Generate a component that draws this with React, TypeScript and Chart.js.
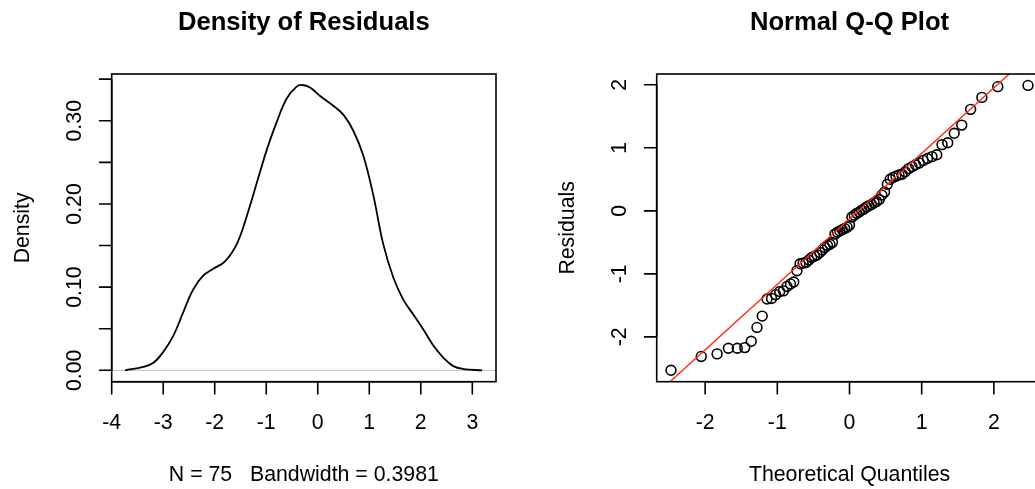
import React, { useEffect, useRef } from "react";
import { Chart, registerables } from "chart.js";

Chart.register(...registerables);

const FONT = '"Liberation Sans", Arial, Helvetica, sans-serif';

// ---------- Density of Residuals ----------
const densityTitle = "Density of Residuals";
const densityXLabel = "N = 75   Bandwidth = 0.3981";
const densityYLabel = "Density";
const densityX = [
  -3.74, -3.39, -3.19, -3.0, -2.8, -2.61, -2.42, -2.22, -2.03, -1.8, -1.57, -1.38,
  -1.18, -0.99, -0.8, -0.6, -0.41, -0.3, -0.15, 0.04, 0.3, 0.5, 0.69, 0.885, 1.08,
  1.27, 1.47, 1.66, 1.855, 2.05, 2.24, 2.44, 2.63, 2.83, 3.19,
];
const densityY = [
  0, 0.004, 0.009, 0.022, 0.042, 0.07, 0.097, 0.114, 0.122, 0.131, 0.152, 0.185,
  0.226, 0.265, 0.298, 0.327, 0.341, 0.343, 0.34, 0.33, 0.318, 0.307, 0.288, 0.258,
  0.21, 0.152, 0.111, 0.085, 0.067, 0.049, 0.03, 0.015, 0.005, 0.0015, 0,
];
const densityXTicks = [-4, -3, -2, -1, 0, 1, 2, 3];
const densityXTickLabels = ["-4", "-3", "-2", "-1", "0", "1", "2", "3"];
const densityYTicks = [0, 0.05, 0.1, 0.15, 0.2, 0.25, 0.3, 0.35];
const densityYTickLabels = ["0.00", "", "0.10", "", "0.20", "", "0.30", ""];
const densityXRange = [-4.0, 3.46];
const densityYRange = [-0.0137, 0.3562];

// ---------- Normal Q-Q Plot ----------
const qqTitle = "Normal Q-Q Plot";
const qqXLabel = "Theoretical Quantiles";
const qqYLabel = "Residuals";
const theoreticalQuantiles = [
  -2.473, -2.054, -1.834, -1.678, -1.555, -1.451, -1.361, -1.282, -1.209, -1.142,
  -1.08, -1.022, -0.967, -0.915, -0.866, -0.818, -0.772, -0.728, -0.685, -0.643,
  -0.603, -0.563, -0.524, -0.486, -0.449, -0.412, -0.376, -0.341, -0.305, -0.271,
  -0.236, -0.202, -0.168, -0.134, -0.1, -0.067, -0.033, 0, 0.033, 0.067,
  0.1, 0.134, 0.168, 0.202, 0.236, 0.271, 0.305, 0.341, 0.376, 0.412,
  0.449, 0.486, 0.524, 0.563, 0.603, 0.643, 0.685, 0.728, 0.772, 0.818,
  0.866, 0.915, 0.967, 1.022, 1.08, 1.142, 1.209, 1.282, 1.361, 1.451,
  1.555, 1.678, 1.834, 2.054, 2.473,
];
const residuals = [
  -2.53, -2.31, -2.27, -2.18, -2.18, -2.17, -2.07, -1.85, -1.67, -1.4,
  -1.39, -1.33, -1.28, -1.27, -1.2, -1.16, -1.13, -0.95, -0.84, -0.83,
  -0.82, -0.78, -0.74, -0.72, -0.7, -0.66, -0.62, -0.58, -0.55, -0.53,
  -0.5, -0.37, -0.34, -0.32, -0.3, -0.28, -0.26, -0.23, -0.1, -0.07,
  -0.04, -0.02, 0.01, 0.03, 0.06, 0.08, 0.1, 0.13, 0.15, 0.18,
  0.25, 0.3, 0.42, 0.5, 0.53, 0.55, 0.57, 0.58, 0.62, 0.67,
  0.7, 0.73, 0.76, 0.8, 0.83, 0.86, 0.89, 1.05, 1.08, 1.23,
  1.36, 1.61, 1.8, 1.97, 1.99,
];
const qqLineIntercept = -0.127;
const qqLineSlope = 1.039;
const qqXTicks = [-2, -1, 0, 1, 2];
const qqXTickLabels = ["-2", "-1", "0", "1", "2"];
const qqYTicks = [-2, -1, 0, 1, 2];
const qqYTickLabels = ["-2", "-1", "0", "1", "2"];
const qqXRange = [-2.671, 2.671];
const qqYRange = [-2.711, 2.171];

// ---------- R-style axes plugin ----------
const TICK = 12.8;
const rAxesPlugin = {
  id: "rAxes",
  afterDraw(chart: any, _args: any, opts: any) {
    const { ctx, chartArea: a, scales } = chart;
    const xs = scales.x;
    const ys = scales.y;
    ctx.save();
    ctx.strokeStyle = "#000";
    ctx.lineWidth = 1.6;
    ctx.lineCap = "butt";
    ctx.strokeRect(a.left, a.top, a.right - a.left, a.bottom - a.top);

    const xt: number[] = opts.xTicks;
    const yt: number[] = opts.yTicks;
    ctx.beginPath();
    ctx.moveTo(xs.getPixelForValue(xt[0]), a.bottom);
    ctx.lineTo(xs.getPixelForValue(xt[xt.length - 1]), a.bottom);
    xt.forEach((v) => {
      const px = xs.getPixelForValue(v);
      ctx.moveTo(px, a.bottom);
      ctx.lineTo(px, a.bottom + TICK);
    });
    ctx.moveTo(a.left, ys.getPixelForValue(yt[0]));
    ctx.lineTo(a.left, ys.getPixelForValue(yt[yt.length - 1]));
    yt.forEach((v) => {
      const py = ys.getPixelForValue(v);
      ctx.moveTo(a.left, py);
      ctx.lineTo(a.left - TICK, py);
    });
    ctx.stroke();

    ctx.fillStyle = "#000";
    ctx.font = `21.3px ${FONT}`;
    ctx.textAlign = "center";
    ctx.textBaseline = "alphabetic";
    xt.forEach((v, i) => {
      ctx.fillText(opts.xTickLabels[i], xs.getPixelForValue(v), a.bottom + 46.8);
    });
    yt.forEach((v, i) => {
      const lab = opts.yTickLabels[i];
      if (!lab) return;
      ctx.save();
      ctx.translate(a.left - 31, ys.getPixelForValue(v));
      ctx.rotate(-Math.PI / 2);
      ctx.fillText(lab, 0, 0);
      ctx.restore();
    });

    const cx = (a.left + a.right) / 2;
    const cy = (a.top + a.bottom) / 2;
    ctx.fillText(opts.xLabel, cx, a.bottom + 99.3);
    ctx.save();
    ctx.translate(a.left - 83, cy);
    ctx.rotate(-Math.PI / 2);
    ctx.fillText(opts.yLabel, 0, 0);
    ctx.restore();

    ctx.font = `bold 25.6px ${FONT}`;
    ctx.fillText(opts.title, cx, 30.3);
    ctx.restore();
  },
};

function densityConfig(): any {
  return {
    type: "line",
    data: {
      datasets: [
        {
          data: densityX.map((x, i) => ({ x, y: densityY[i] })),
          borderColor: "#000",
          borderWidth: 1.8,
          pointRadius: 0,
          tension: 0.4,
          fill: false,
        },
        {
          data: [
            { x: densityXRange[0], y: 0 },
            { x: densityXRange[1], y: 0 },
          ],
          borderColor: "#bebebe",
          borderWidth: 1,
          pointRadius: 0,
          fill: false,
        },
      ],
    },
    options: {
      responsive: false,
      animation: false,
      devicePixelRatio: 1,
      layout: { padding: { left: 111.7, right: 24, top: 74, bottom: 107.3 } },
      scales: {
        x: { type: "linear", min: densityXRange[0], max: densityXRange[1], display: false },
        y: { type: "linear", min: densityYRange[0], max: densityYRange[1], display: false },
      },
      plugins: {
        legend: { display: false },
        tooltip: { enabled: false },
        rAxes: {
          xTicks: densityXTicks,
          xTickLabels: densityXTickLabels,
          yTicks: densityYTicks,
          yTickLabels: densityYTickLabels,
          title: densityTitle,
          xLabel: densityXLabel,
          yLabel: densityYLabel,
        },
      },
    },
    plugins: [rAxesPlugin],
  };
}

function qqConfig(): any {
  const lx = [qqXRange[0] - 0.5, qqXRange[1] + 0.5];
  return {
    type: "scatter",
    data: {
      datasets: [
        {
          type: "line",
          data: lx.map((x) => ({ x, y: qqLineIntercept + qqLineSlope * x })),
          borderColor: "#ff2a10",
          borderWidth: 1.4,
          pointRadius: 0,
          fill: false,
          clip: 0,
        },
        {
          data: theoreticalQuantiles.map((x, i) => ({ x, y: residuals[i] })),
          pointStyle: "circle",
          pointRadius: 4.9,
          pointBackgroundColor: "rgba(0,0,0,0)",
          pointBorderColor: "#000",
          pointBorderWidth: 1.6,
          showLine: false,
        },
      ],
    },
    options: {
      responsive: false,
      animation: false,
      devicePixelRatio: 1,
      layout: { padding: { left: 136.7, right: 17.7, top: 74, bottom: 107.3 } },
      scales: {
        x: { type: "linear", min: qqXRange[0], max: qqXRange[1], display: false },
        y: { type: "linear", min: qqYRange[0], max: qqYRange[1], display: false },
      },
      plugins: {
        legend: { display: false },
        tooltip: { enabled: false },
        rAxes: {
          xTicks: qqXTicks,
          xTickLabels: qqXTickLabels,
          yTicks: qqYTicks,
          yTickLabels: qqYTickLabels,
          title: qqTitle,
          xLabel: qqXLabel,
          yLabel: qqYLabel,
        },
      },
    },
    plugins: [rAxesPlugin],
  };
}

function Panel({ make, left, width }: { make: () => any; left: number; width: number }) {
  const ref = useRef<HTMLCanvasElement>(null);
  useEffect(() => {
    const chart = new Chart(ref.current as HTMLCanvasElement, make());
    return () => chart.destroy();
  }, []);
  return (
    <canvas
      ref={ref}
      width={width}
      height={489}
      style={{ position: "absolute", left, top: 0, width, height: 489, display: "block" }}
    />
  );
}

export default function App() {
  return (
    <div
      style={{
        position: "fixed",
        left: 0,
        top: 0,
        width: 1035,
        height: 489,
        overflow: "hidden",
        background: "#fff",
      }}
    >
      <Panel make={densityConfig} left={0} width={520} />
      <Panel make={qqConfig} left={520} width={540} />
    </div>
  );
}
